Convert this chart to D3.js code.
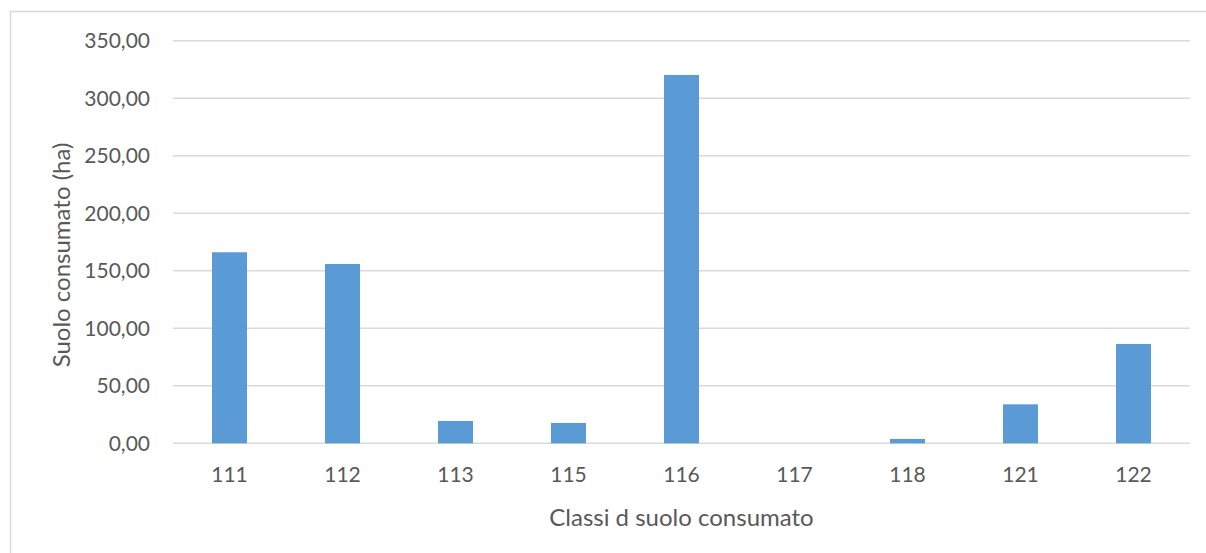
<!DOCTYPE html>
<html>
<head>
<meta charset="utf-8">
<script src="https://cdn.jsdelivr.net/npm/d3@7"></script>
<style>
  body { margin: 0; background: #fff; }
  text { font-family: Lato, "Open Sans", sans-serif; fill: #595959; }
</style>
</head>
<body>
<div class="vis"></div>
<script>
// chart data
const classes = ["111", "112", "113", "115", "116", "117", "118", "121", "122"];
const hectares = [166.1, 155.9, 19.4, 17.7, 320.3, 0, 3.8, 33.9, 86.4];
const yTicks = [0, 50, 100, 150, 200, 250, 300, 350];

const W = 1206, H = 553;
const plotLeft = 173, plotRight = 1190, plotTop = 40.8, plotBottom = 443.3;

const svg = d3.select(".vis").append("svg")
    .attr("width", W)
    .attr("height", H);

// outer chart frame
svg.append("rect")
    .attr("x", 10.5).attr("y", 11.5)
    .attr("width", W + 20).attr("height", H + 20)
    .attr("fill", "none")
    .attr("stroke", "#d9d9d9")
    .attr("stroke-width", 1.5);

let x = d3.scaleBand().domain(classes).range([plotLeft, plotRight]).paddingInner(0.69).paddingOuter(0.345)
let y = d3.scaleLinear().domain([0, 350]).range([plotBottom, plotTop])
const fmt = v => d3.format(".2f")(v).replace(".", ",")

// gridlines
svg.append("g")
    .selectAll("line")
    .data(yTicks)
    .join("line")
    .attr("x1", plotLeft).attr("x2", plotRight)
    .attr("y1", d => y(d)).attr("y2", d => y(d))
    .attr("stroke", "#d9d9d9")
    .attr("stroke-width", 1.5);

// y axis labels
svg.append("g")
    .attr("transform", `translate(${plotLeft - 23}, 0)`)
    .call(d3.axisLeft(y).tickValues(yTicks).tickFormat(fmt).tickSize(0).tickPadding(0))
    .call(g => g.select(".domain").remove())
    .selectAll("text")
    .style("font-size", "21px")
    .attr("fill", "#595959");

// bars
svg.append("g")
    .selectAll("rect")
    .data(hectares)
    .join("rect")
    .attr("x", (d, i) => x(classes[i]))
    .attr("y", d => y(d))
    .attr("width", x.bandwidth())
    .attr("height", d => y(0) - y(d))
    .attr("fill", "#5b9bd5");

// x axis labels
svg.append("g")
    .attr("transform", `translate(0, ${plotBottom + 24})`)
    .call(d3.axisBottom(x).tickSize(0).tickPadding(0))
    .call(g => g.select(".domain").remove())
    .selectAll("text")
    .style("font-size", "21px")
    .attr("fill", "#595959");

// axis titles
svg.append("text")
    .attr("x", (plotLeft + plotRight) / 2)
    .attr("y", 526)
    .attr("text-anchor", "middle")
    .style("font-size", "24px")
    .text("Classi d suolo consumato");

svg.append("text")
    .attr("transform", `translate(70, 255) rotate(-90)`)
    .attr("text-anchor", "middle")
    .style("font-size", "24px")
    .text("Suolo consumato (ha)");
</script>
</body>
</html>
